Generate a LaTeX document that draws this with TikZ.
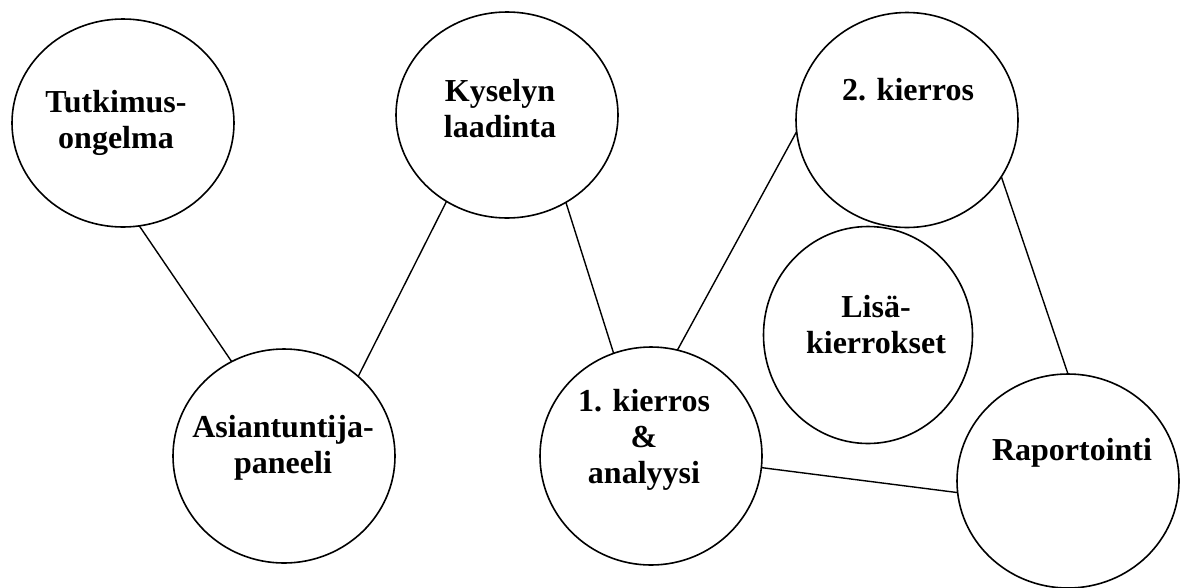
\documentclass[tikz,border=0pt]{standalone}
\usepackage{fontspec}
\setmainfont{Liberation Serif}
\usetikzlibrary{shapes.geometric}
\begin{document}
\begin{tikzpicture}[x=1pt,y=-1pt,
  bubble/.style={ellipse,draw=black,line width=1.6pt,inner sep=0pt,outer sep=0pt,fill=white},
  lbl/.style={align=center,inner sep=0pt,anchor=base,font=\fontsize{32}{36}\selectfont\bfseries},
  link/.style={draw=black,line width=1.4pt}]
\useasboundingbox (0,0) rectangle (1180,587);
% bubbles
\node[bubble,minimum width=222pt,minimum height=208pt] (tut) at (123,123) {};
\node[bubble,minimum width=222pt,minimum height=206pt] (kys) at (507,115) {};
\node[bubble,minimum width=222pt,minimum height=215pt] (k2) at (907,120) {};
\node[bubble,minimum width=209pt,minimum height=217pt] (lisa) at (868,335) {};
\node[bubble,minimum width=222pt,minimum height=214pt] (asi) at (284,456) {};
\node[bubble,minimum width=222pt,minimum height=218pt] (k1) at (651,456) {};
\node[bubble,minimum width=222pt,minimum height=214pt] (rap) at (1068,481) {};
% labels (anchored at the baseline of their last line)
\node[lbl] (ttut) at (116,148) {Tutkimus-\\ongelma};
\node[lbl] (tkys) at (500,137) {Kyselyn\\laadinta};
\node[lbl] (tk2) at (908,100) {2. kierros};
\node[lbl] (tlisa) at (876,353) {Lisä-\\kierrokset};
\node[lbl] (trap) at (1072,460) {Raportointi};
\node[lbl] (tasi) at (283,473) {Asiantuntija-\\paneeli};
\node[lbl] (tk1) at (644,483) {1. kierros\\\&\\analyysi};
% connectors
\draw[link] (tut.-81) -- (asi.119);
\draw[link] (kys.-125) -- (asi.47);
\draw[link] (kys.-56) -- (k1.110);
\draw[link] (k1.76) -- (k2.186);
\draw[link] (k2.-31) -- (rap.90);
\draw[link] (k1.-6) -- (rap.186);
\end{tikzpicture}
\end{document}
